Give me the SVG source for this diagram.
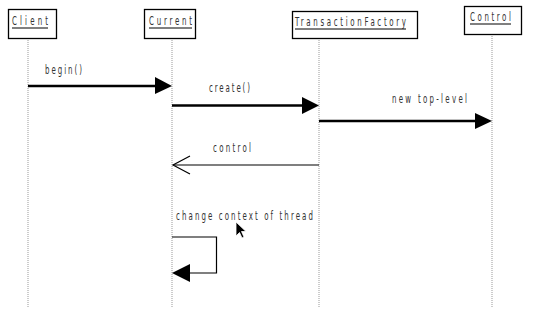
<svg xmlns="http://www.w3.org/2000/svg" width="534" height="328" viewBox="0 0 534 328">
<defs>
<style>
.box{fill:#fff;stroke:#000;stroke-width:1.3}
.lbl{font-family:"DejaVu Sans Condensed","Liberation Sans Narrow","Liberation Sans",sans-serif;font-size:13px;fill:#333}
.life{stroke:#999;stroke-width:1;stroke-dasharray:1 1;fill:none}
.ul{stroke:#000;stroke-width:1}
.msg{stroke:#000;stroke-width:2.4;fill:none}
.thin{stroke:#000;stroke-width:1.2;fill:none}
</style>
</defs>
<rect width="534" height="328" fill="#fff"/>
<g id="lifelines">
<line class="life" x1="28" y1="38" x2="28" y2="307"/>
<line class="life" x1="172" y1="38" x2="172" y2="307"/>
<line class="life" x1="319" y1="38" x2="319" y2="307"/>
<line class="life" x1="492" y1="34" x2="492" y2="307"/>
</g>
<g id="client">
<rect class="box" x="8.5" y="9.5" width="48" height="29"/>
<text class="lbl" transform="translate(12,25) scale(0.6,1)" textLength="60" lengthAdjust="spacing">Client</text>
<line class="ul" x1="12" y1="28" x2="48" y2="28"/>
</g>
<g id="current">
<rect class="box" x="144.5" y="9.5" width="51" height="29"/>
<text class="lbl" transform="translate(149,25) scale(0.6,1)" textLength="71.7" lengthAdjust="spacing">Current</text>
<line class="ul" x1="149" y1="28" x2="192" y2="28"/>
</g>
<g id="transactionfactory">
<rect class="box" x="292.5" y="11.5" width="125" height="27"/>
<text class="lbl" transform="translate(295,26) scale(0.6,1)" textLength="185" lengthAdjust="spacing">TransactionFactory</text>
<line class="ul" x1="295" y1="29" x2="406" y2="29"/>
</g>
<g id="control">
<rect class="box" x="464.5" y="6.5" width="57" height="28"/>
<text class="lbl" transform="translate(470,21) scale(0.6,1)" textLength="68.3" lengthAdjust="spacing">Control</text>
<line class="ul" x1="470" y1="24" x2="511" y2="24"/>
</g>
<g id="connectors">
<line class="msg" x1="28" y1="86" x2="158" y2="86"/>
<polygon points="155,77 172,86 155,94" fill="#000"/>
<text class="lbl" transform="translate(45,74) scale(0.6,1)" textLength="61.7" lengthAdjust="spacing">begin()</text>
<line class="msg" x1="172" y1="105.5" x2="305" y2="105.5"/>
<polygon points="302,97 319,105.5 302,114" fill="#000"/>
<text class="lbl" transform="translate(209,92) scale(0.6,1)" textLength="68.3" lengthAdjust="spacing">create()</text>
<line class="msg" x1="319" y1="121" x2="478" y2="121"/>
<polygon points="475,113 492,121 475,129" fill="#000"/>
<text class="lbl" transform="translate(392,103) scale(0.6,1)" textLength="125" lengthAdjust="spacing">new top-level</text>
<line class="thin" x1="173" y1="165" x2="319" y2="165"/>
<polyline class="thin" points="190,156 173,165 190,174"/>
<text class="lbl" transform="translate(213,152) scale(0.6,1)" textLength="63.3" lengthAdjust="spacing">control</text>
<text class="lbl" transform="translate(176,220) scale(0.6,1)" textLength="228.3" lengthAdjust="spacing">change context of thread</text>
<polyline class="thin" points="172,237 216.5,237 216.5,273 188,273"/>
<polygon points="190,264 172,273 190,282" fill="#000"/>
</g>
<path d="M236,222 L236,236 L239.5,232.5 L242,238 L244,237 L241.5,231.5 L246,231.5 Z" fill="#000" stroke="#fff" stroke-width="0.8"/>
</svg>
